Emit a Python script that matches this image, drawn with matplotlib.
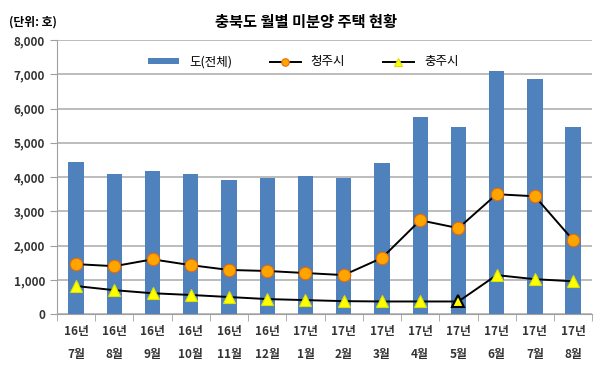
import numpy as np
import matplotlib.pyplot as plt

plt.rcParams['font.family'] = ['Noto Sans CJK KR', 'DejaVu Sans']

months = ['16년\n7월', '16년\n8월', '16년\n9월', '16년\n10월', '16년\n11월', '16년\n12월',
          '17년\n1월', '17년\n2월', '17년\n3월', '17년\n4월', '17년\n5월', '17년\n6월',
          '17년\n7월', '17년\n8월']
total = [4430, 4090, 4180, 4090, 3910, 3970, 4030, 3970, 4410, 5750, 5460, 7090, 6860, 5460]
cheongju = [1460, 1400, 1600, 1430, 1290, 1260, 1200, 1140, 1640, 2740, 2510, 3500, 3440, 2160]
chungju = [820, 700, 610, 560, 500, 440, 410, 380, 370, 370, 370, 1140, 1020, 960]

x = np.arange(len(months))

fig = plt.figure(figsize=(6, 3.74), dpi=100)
ax = fig.add_axes([0.095, 0.16, 0.892, 0.733])

b = ax.bar(x, total, width=0.4, color='#4F81BD', zorder=2, label='도(전체)')
l1, = ax.plot(x, cheongju, color='black', lw=1.4, marker='o', ms=9,
              mfc='#FFA500', mec='#E46C0A', mew=0.8, zorder=3, label='청주시')
l2, = ax.plot(x, chungju, color='black', lw=1.4, marker='^', ms=9,
              mfc='#FFFF00', mec='#E0E000', mew=0.8, zorder=3, label='충주시')
# 17년 5월 강조 표시
ax.plot(x[10], chungju[10], marker='^', ms=9, mfc='#FFFF00', mec='black', mew=1.5,
        zorder=4, ls='none')

ax.set_xlim(-0.5, len(months) - 0.5)
ax.set_ylim(0, 8000)
ax.set_yticks(range(0, 8001, 1000))
ax.set_yticklabels([f'{v:,}' for v in range(0, 8001, 1000)], fontsize=8.5,
                   fontweight='bold', color='#333333')
ax.yaxis.grid(True, color='#B0B0B0', lw=1.2, zorder=0)
ax.set_axisbelow(True)

ax.set_xticks(x)
ax.set_xticklabels(months, fontsize=8.5, fontweight='bold', color='#333333', linespacing=2.0)
ax.tick_params(axis='x', length=0, pad=8)
ax.set_xticks(np.arange(-0.5, len(months), 1), minor=True)
ax.tick_params(axis='x', which='minor', length=5, color='#A0A0A0')
ax.tick_params(axis='y', length=5, color='#A0A0A0')

for s in ['top', 'right']:
    ax.spines[s].set_visible(False)
ax.spines['left'].set_color('#A0A0A0')
ax.spines['bottom'].set_color('#A0A0A0')

leg = ax.legend([b, l1, l2], ['도(전체)', '청주시', '충주시'], loc='upper center',
                bbox_to_anchor=(0.46, 0.985), ncol=3, frameon=False, fontsize=9,
                handlelength=2.5, handleheight=0.4, columnspacing=3, markerscale=0.6)

fig.text(0.51, 0.94, '충북도 월별 미분양 주택 현황', ha='center', va='center',
         fontsize=11, fontweight='bold')
fig.text(0.015, 0.94, '(단위: 호)', ha='left', va='center', fontsize=8.5, fontweight='bold')

fig.savefig('out.png', dpi=100)
